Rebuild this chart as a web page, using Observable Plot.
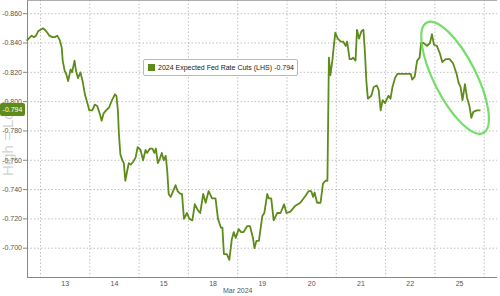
<!DOCTYPE html>
<html><head><meta charset="utf-8">
<script src="https://cdn.jsdelivr.net/npm/d3@7"></script>
<script src="https://cdn.jsdelivr.net/npm/@observablehq/plot@0.6"></script>
<style>
body{margin:0;background:#fff;}
#wrap{position:relative;width:500px;height:296px;}
#legend{position:absolute;left:143px;top:59px;padding:0 3px 0 4px;border:1px solid #b8b8b8;border-radius:2px;background:#fff;font:7px "Liberation Sans";display:flex;align-items:center;color:#222;white-space:nowrap;box-sizing:border-box;width:155px;height:17px}
#legend .sw{width:7px;height:7px;margin-right:3px;flex:none}
#legend .val{margin-left:auto}
</style></head><body><div id="wrap"></div>
<script>
// session labels (day of March 2024), one per trading session slot
const dayLabels = ["13","14","15","18","19","20","21","22","25"];
const monthLabel = "Mar 2024";
const seriesName = "2024 Expected Fed Rate Cuts (LHS)";
const watermark = "High = Low";
const yTicks = [-0.86,-0.84,-0.82,-0.80,-0.78,-0.76,-0.74,-0.72,-0.70];

// position within the session slots (0 = start of Mar 13 session)
const sessionPos = [
-0.27,-0.24,-0.18,-0.14,-0.09,-0.05,0.00,0.05,0.09,0.14,
0.18,0.24,0.29,0.34,0.39,0.43,0.45,0.49,0.52,0.56,
0.61,0.64,0.69,0.72,0.76,0.81,0.86,0.90,0.95,0.99,
1.05,1.10,1.15,1.20,1.24,1.28,1.33,1.39,1.45,1.51,
1.54,1.57,1.59,1.62,1.66,1.69,1.72,1.76,1.79,1.83,
1.88,1.93,1.97,2.03,2.08,2.13,2.16,2.22,2.27,2.31,
2.34,2.38,2.42,2.46,2.50,2.54,2.57,2.60,2.64,2.69,
2.74,2.78,2.84,2.87,2.91,2.97,3.02,3.08,3.13,3.19,
3.24,3.30,3.35,3.41,3.48,3.55,3.60,3.66,3.69,3.72,
3.78,3.83,3.88,3.92,3.96,4.02,4.07,4.12,4.19,4.25,
4.31,4.34,4.38,4.43,4.50,4.54,4.60,4.63,4.68,4.73,
4.80,4.87,4.94,4.99,5.07,5.17,5.27,5.38,5.44,5.49,
5.53,5.56,5.61,5.68,5.73,5.78,5.82,5.85,5.88,5.92,
5.95,5.98,6.03,6.09,6.14,6.19,6.22,6.27,6.31,6.34,
6.39,6.42,6.46,6.51,6.55,6.58,6.61,6.64,6.71,6.76,
6.82,6.86,6.90,6.94,6.99,7.03,7.06,7.10,7.14,7.19,
7.24,7.34,7.44,7.51,7.54,7.59,7.64,7.69,7.72,7.77,
7.84,7.90,7.94,7.98,8.04,8.10,8.15,8.22,8.30,8.37,
8.44,8.48,8.52,8.56,8.61,8.65,8.70,8.74,8.78,8.85,
8.91];
const cutValues = [
-0.842,-0.843,-0.845,-0.844,-0.845,-0.848,-0.849,-0.850,-0.849,-0.847,
-0.845,-0.844,-0.844,-0.845,-0.842,-0.837,-0.828,-0.821,-0.819,-0.814,
-0.822,-0.820,-0.828,-0.821,-0.816,-0.820,-0.813,-0.805,-0.799,-0.794,
-0.794,-0.798,-0.797,-0.792,-0.787,-0.792,-0.794,-0.796,-0.801,-0.805,
-0.804,-0.794,-0.778,-0.764,-0.760,-0.758,-0.746,-0.753,-0.758,-0.757,
-0.759,-0.762,-0.769,-0.767,-0.760,-0.767,-0.765,-0.768,-0.768,-0.765,
-0.768,-0.758,-0.761,-0.765,-0.760,-0.763,-0.753,-0.737,-0.735,-0.739,
-0.743,-0.739,-0.737,-0.737,-0.720,-0.724,-0.720,-0.719,-0.730,-0.726,
-0.724,-0.737,-0.731,-0.739,-0.734,-0.734,-0.720,-0.714,-0.714,-0.696,
-0.696,-0.692,-0.706,-0.711,-0.707,-0.713,-0.711,-0.711,-0.715,-0.715,
-0.707,-0.700,-0.705,-0.705,-0.722,-0.724,-0.737,-0.734,-0.734,-0.719,
-0.724,-0.724,-0.730,-0.724,-0.725,-0.729,-0.731,-0.736,-0.739,-0.739,
-0.735,-0.738,-0.731,-0.731,-0.744,-0.746,-0.746,-0.830,-0.818,-0.828,
-0.838,-0.847,-0.843,-0.841,-0.841,-0.838,-0.841,-0.829,-0.829,-0.830,
-0.828,-0.849,-0.843,-0.848,-0.849,-0.834,-0.814,-0.802,-0.804,-0.810,
-0.811,-0.808,-0.794,-0.801,-0.799,-0.802,-0.804,-0.802,-0.810,-0.816,
-0.819,-0.819,-0.819,-0.819,-0.815,-0.817,-0.828,-0.830,-0.840,-0.840,
-0.838,-0.840,-0.846,-0.839,-0.838,-0.833,-0.827,-0.829,-0.829,-0.826,
-0.819,-0.813,-0.810,-0.801,-0.812,-0.803,-0.797,-0.789,-0.793,-0.794,
-0.794];

// annotation ellipse centre (session position, value)
const ellipseCenter = [8.42, -0.816];

const lineColor = "#5e8c1a";
const gridColor = "#b0b0b0";
const xDomain = [-0.264, 9.27];
const yDomain = [-0.869, -0.680];
const lastValue = cutValues[cutValues.length - 1];
const rows = sessionPos.map((x, i) => ({x, y: cutValues[i]}));
const boundaries = d3.range(0, dayLabels.length + 1);
const centers = dayLabels.map((_, i) => i + 0.5);

function ellipseMark(index, scales) {
  const cx = scales.x(ellipseCenter[0]), cy = scales.y(ellipseCenter[1]);
  return d3.create("svg:ellipse")
    .attr("cx", cx).attr("cy", cy).attr("rx", 21).attr("ry", 62)
    .attr("transform", `rotate(-27 ${cx} ${cy})`)
    .attr("fill", "none").attr("stroke", "#66d95a").attr("stroke-width", 2.2)
    .attr("stroke-opacity", 0.9).node();
}
function valueTag(index, scales) {
  const y = scales.y(lastValue);
  const g = d3.create("svg:g");
  g.append("rect").attr("x", 0).attr("y", y - 7).attr("width", 25).attr("height", 13)
    .attr("rx", 2).attr("fill", lineColor);
  g.append("text").attr("x", 12.5).attr("y", y).attr("dy", "0.35em")
    .attr("text-anchor", "middle").attr("fill", "#fff")
    .attr("font-size", 7).attr("font-family", "Liberation Sans")
    .text(lastValue.toFixed(3));
  return g.node();
}

const chart = Plot.plot({
  width: 500, height: 296,
  marginLeft: 27, marginRight: 3, marginTop: 0, marginBottom: 19,
  style: {fontFamily: "Liberation Sans", fontSize: "7px", color: "#555", background: "#fff"},
  x: {domain: xDomain, axis: null},
  y: {domain: yDomain, reverse: true, axis: null},
  marks: [
    Plot.text([watermark], {frameAnchor: "left", dx: -19, dy: 37, rotate: -90, textAnchor: "start",
      fontSize: 15, fill: "#d3d3d3"}),
    Plot.ruleY(yTicks, {stroke: gridColor, strokeDasharray: "1.5,2", strokeWidth: 0.8}),
    Plot.ruleX(boundaries, {stroke: gridColor, strokeDasharray: "1.5,2", strokeWidth: 0.8}),
    Plot.ruleX([xDomain[0]], {stroke: "#888", strokeWidth: 1}),
    Plot.ruleY([yDomain[1]], {stroke: "#888", strokeWidth: 1}),
    Plot.ruleY([yDomain[0]], {stroke: "#999", strokeWidth: 0.8}),
    Plot.axisY(yTicks, {anchor: "left", label: null, tickSize: 4, tickPadding: 1.5, tickFormat: d => d.toFixed(3),
      fontSize: 7, fill: "#555", stroke: "#888"}),
    Plot.axisX(centers, {anchor: "bottom", label: null, tickSize: 0, tickPadding: 4,
      tickFormat: (d, i) => dayLabels[i], fontSize: 7, fill: "#555"}),
    Plot.text([monthLabel], {x: () => 4.0, frameAnchor: "bottom", dy: 15, fontSize: 7, fill: "#555"}),
    Plot.line(rows, {x: "x", y: "y", stroke: lineColor, strokeWidth: 1.8, strokeLinejoin: "round"}),
    ellipseMark,
    valueTag
  ]
});
const wrap = document.getElementById("wrap");
wrap.appendChild(chart);
const legend = document.createElement("div");
legend.id = "legend";
legend.innerHTML = `<span class="sw" style="background:${lineColor}"></span><span>${seriesName}</span><span class="val">${lastValue.toFixed(3)}</span>`;
wrap.appendChild(legend);
</script>
</body></html>
